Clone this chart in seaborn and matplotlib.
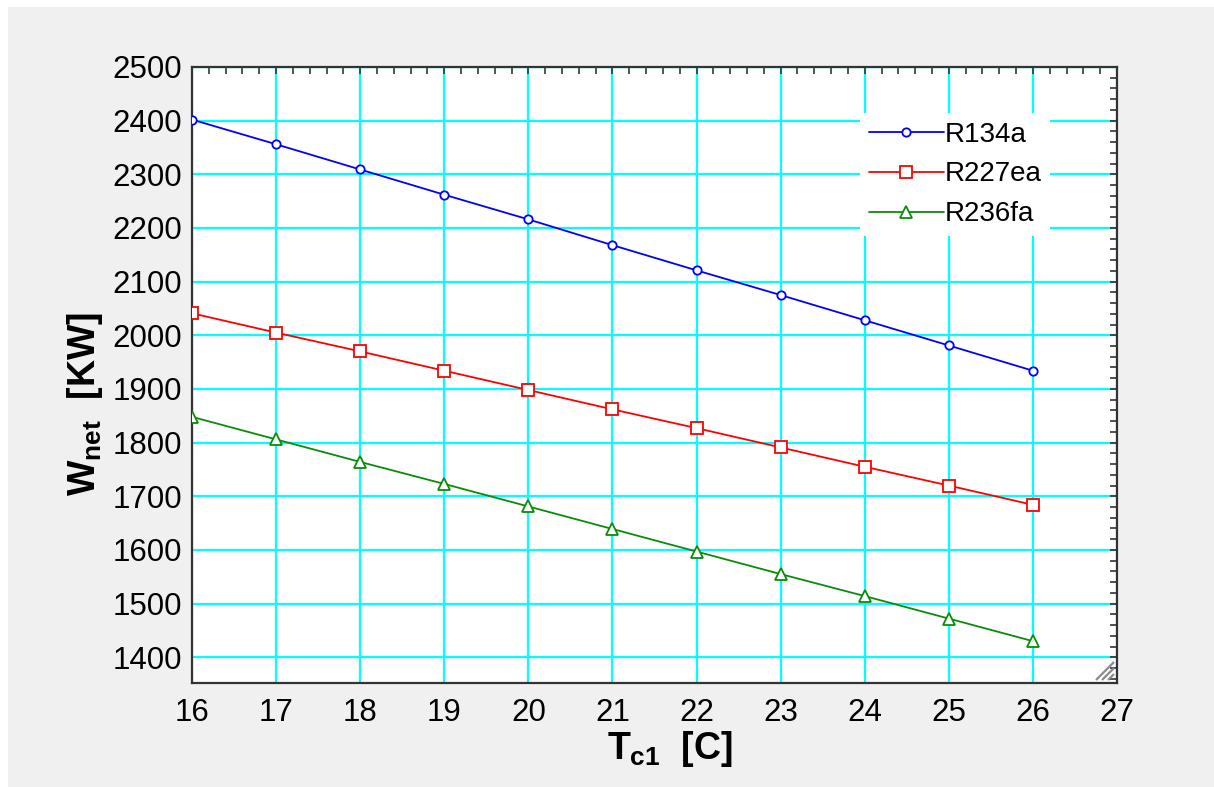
import matplotlib
matplotlib.use("Agg")
import matplotlib.pyplot as plt
import matplotlib.patches as mpatches
from matplotlib.ticker import AutoMinorLocator
import seaborn as sns
import pandas as pd

# ---- data ----
t_c1 = [16, 17, 18, 19, 20, 21, 22, 23, 24, 25, 26]
r134a = [2402, 2356, 2309, 2262, 2216, 2168, 2121, 2075, 2028, 1981, 1934]
r227ea = [2041, 2005, 1970, 1934, 1898, 1862, 1827, 1791, 1755, 1720, 1684]
r236fa = [1848, 1806, 1764, 1723, 1681, 1639, 1597, 1555, 1514, 1472, 1430]
series_names = ["R134a", "R227ea", "R236fa"]
x_ticks = [16, 17, 18, 19, 20, 21, 22, 23, 24, 25, 26, 27]
y_ticks = [1400, 1500, 1600, 1700, 1800, 1900, 2000, 2100, 2200, 2300, 2400, 2500]

sns.set_style("white")
plt.rcParams["font.family"] = ["Liberation Sans", "DejaVu Sans"]
plt.rcParams["mathtext.fontset"] = "custom"
plt.rcParams["mathtext.rm"] = "Liberation Sans:bold"
plt.rcParams["mathtext.it"] = "Liberation Sans:bold"
plt.rcParams["mathtext.bf"] = "Liberation Sans:bold"

W, H = 1214, 787
fig = plt.figure(figsize=(W / 100, H / 100), dpi=100)
fig.patch.set_facecolor("white")
fig.patches.append(mpatches.Rectangle((8 / W, 0), 1, 1 - 7 / H,
                                      transform=fig.transFigure,
                                      facecolor="#f0f0f0", edgecolor="none",
                                      zorder=-10))
AX_W, AX_H = 1117 - 192, 683 - 67
ax = fig.add_axes([192 / W, 1 - 683 / H, AX_W / W, AX_H / H])
ax.set_facecolor("white")

styles = [
    (r134a, "#0000ff", "o", 6),
    (r227ea, "#ff0000", "s", 8),
    (r236fa, "#0a8c0a", "^", 8),
]
for name, (vals, col, mk, ms) in zip(series_names, styles):
    df = pd.DataFrame({"T": t_c1, "W": vals})
    sns.lineplot(data=df, x="T", y="W", ax=ax, color=col, marker=mk,
                 markersize=ms, markerfacecolor="white", markeredgecolor=col,
                 markeredgewidth=1.3, linewidth=1.3, label=name, zorder=3)

ax.set_xlim(16, 27)
ax.set_ylim(1352, 2500)
ax.set_xticks(x_ticks)
ax.set_yticks(y_ticks)
ax.xaxis.set_minor_locator(AutoMinorLocator(5))
ax.yaxis.set_minor_locator(AutoMinorLocator(5))
ax.grid(True, which="major", color="#00ffff", linewidth=1.6, zorder=1)
ax.set_axisbelow(True)
ax.tick_params(which="both", direction="in", top=True, right=True,
               colors="#333333", labelcolor="black")
ax.tick_params(which="major", length=5, width=1.2, labelsize=22.5)
ax.tick_params(which="minor", length=5, width=1.2)
ax.tick_params(axis="y", pad=7)
ax.tick_params(axis="x", pad=11)
for s in ax.spines.values():
    s.set_color("#333333")
    s.set_linewidth(1.6)

ax.set_xlabel(r"$T_{c1}$  [C]", fontsize=27, fontweight="bold", color="black")
ax.set_ylabel(r"$W_{net}$  [KW]", fontsize=27, fontweight="bold", color="black")
ax.xaxis.set_label_coords(0.517, -0.074)
ax.yaxis.set_label_coords(-0.094, 0.453)

leg = ax.legend(loc="upper right", bbox_to_anchor=(0.928, 0.925),
                frameon=True, fontsize=20, handlelength=2.7,
                handletextpad=0.05, labelspacing=0.5, borderpad=0.3,
                borderaxespad=0, fancybox=False)
leg.get_frame().set_facecolor("white")
leg.get_frame().set_edgecolor("none")
leg.get_frame().set_alpha(1)
for t in leg.get_texts():
    t.set_color("black")

# resize grip in the bottom-right corner (pixel offsets converted to axes units)
for p in [9, 15, 21]:
    ax.plot([1 - p / AX_W, 1 - 3 / AX_W], [3 / AX_H, (p - 0) / AX_H],
            transform=ax.transAxes, color="#8a8a8a", linewidth=1.6,
            clip_on=False, zorder=5, solid_capstyle="butt")

fig.savefig("out.png", dpi=100)
